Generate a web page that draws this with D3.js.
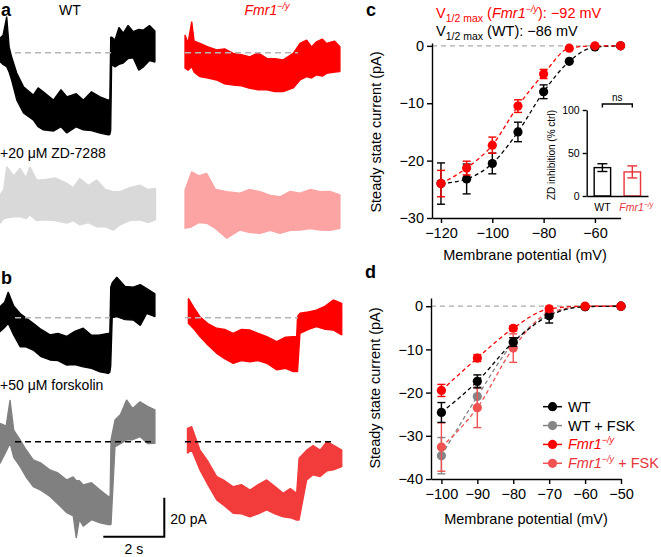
<!DOCTYPE html>
<html><head><meta charset="utf-8">
<script src="https://cdn.jsdelivr.net/npm/d3@7"></script>
<style>body{margin:0;background:#fff}svg{display:block}text{font-family:'Liberation Sans',Arial,Helvetica,sans-serif}</style>
</head><body><svg id="fig" width="661" height="557"></svg>
<script>
// ---------- DATA ----------
// Panel c : steady-state current vs membrane potential
const voltC = [-120,-110,-100,-90,-80,-70,-60,-50];
const wtC = [-24.0,-23.2,-20.5,-15.0,-8.0,-2.7,-0.2,0];
const wtCErr = [3.6,2.6,1.8,1.7,1.2,0.4,0.2,0.1];
const koC = [-24.0,-21.3,-17.3,-10.5,-4.9,-0.4,0,0];
const koCErr = [2.3,1.2,1.4,1.1,0.8,0.3,0.2,0.1];
const tickXC = [-120,-100,-80,-60];
const tickYC = [-30,-20,-10,0];
// inset : ZD inhibition
const insetCats = ["WT","Fmr1"];
const insetVals = [33,28];
const insetErr = [4.5,7];
const insetTicks = [0,50,100];
// Panel d
const voltD = [-100,-90,-80,-70,-60,-50];
const wtD = [-24.6,-17.4,-8.3,-2.2,-0.1,0];
const wtDErr = [2.3,1.5,1.0,1.7,0.2,0];
const wtFskD = [-34.6,-20.9,-8.5,-2.0,-0.1,0];
const wtFskDErr = [4.2,2.2,1.2,0.8,0.2,0];
const koD = [-19.5,-12.0,-5.1,-0.6,0,0];
const koDErr = [1.4,0.8,0.6,0.3,0.2,0];
const koFskD = [-32.6,-23.5,-9.7,-1.5,-0.1,0];
const koFskDErr = [5.6,4.6,3.3,1.0,0.2,0];
const tickXD = [-100,-90,-80,-70,-60,-50];
const tickYD = [-40,-30,-20,-10,0];
// Current traces: [time (s), upper envelope (pA), lower envelope (pA)]
const traceA_WT = [[0,7.4,-4.6],[0.1,9,-6],[0.22,18.5,-7.2],[0.3,3,-10],[0.38,-2.1,-14.0],[0.55,-10.4,-24.3],[0.77,-17.4,-30.9],[1.09,-21.7,-34.5],[1.25,-18,-38],[1.42,-20.0,-39.6],[1.75,-24.3,-40.2],[2.0,-19,-38],[2.19,-22.6,-41.2],[2.5,-21,-38],[2.73,-24.3,-39.6],[3.0,-20,-40],[3.28,-22.6,-41.2],[3.55,-24.3,-42.2],[3.6,-24,-42],[3.63,8,-40],[3.66,8,-6],[3.77,6.5,-7.3],[3.9,13,-6],[4.04,10.1,-5.3],[4.2,14,-3],[4.37,10.8,-2.7],[4.55,12,-9],[4.70,11.6,-7.3],[4.9,14,-4],[5.08,11.1,-4.8]];
const traceA_KO = [[0,9.1,-8.0],[0.1,5,-9],[0.22,15.9,-7.2],[0.3,6,-10],[0.49,4.8,-12.3],[0.75,3,-13],[1.04,1.4,-14.0],[1.3,2,-16],[1.58,-0.3,-16.6],[1.85,-1,-17],[2.13,-2.1,-18.3],[2.4,0,-19],[2.68,-2.9,-19.1],[2.95,-3,-20],[3.22,-3.7,-20.0],[3.55,-0.3,-18.1],[3.77,4.8,-14.0],[3.99,6.5,-12.3],[4.15,3,-13],[4.31,5.6,-11.4],[4.5,7,-12],[4.64,4.8,-10.6],[4.9,6,-10],[5.08,3.1,-9.7]];
const traceZD_WT = [[0,7.2,-7.3],[0.12,10,-5],[0.22,21.7,-4.6],[0.45,17,-4],[0.66,20.9,-3.9],[0.85,16,-5],[0.98,21.7,-3.1],[1.2,15,-6],[1.42,14.9,-5.6],[1.8,16,-6],[2.19,13.2,-7.3],[2.4,11,-6],[2.62,15.7,-8.2],[2.9,12,-7],[3.17,14.9,-9.1],[3.45,10,-9],[3.72,8.9,-10.8],[3.93,8.9,-8.2],[4.25,11,-6],[4.59,12.3,-5.6],[4.85,10,-7],[5.10,10.6,-5.6]];
const traceZD_KO = [[0,9.7,-9.9],[0.22,19.1,-9.1],[0.45,17,-7],[0.71,18.3,-7.3],[1.0,10,-10],[1.37,8.9,-15.0],[1.80,8.1,-10.8],[2.1,10,-12],[2.46,8.9,-12.5],[2.8,7,-11],[3.11,6.3,-12.5],[3.45,9,-11],[3.77,8.1,-10.8],[4.1,10,-10],[4.43,8.9,-10.8],[4.75,9,-11],[5.08,7.2,-9.9]];
const traceB_WT = [[0,5.6,-7.2],[0.15,8,-5],[0.27,13.2,-2.9],[0.45,6,-9],[0.66,2.2,-14.9],[0.85,0,-15],[1.09,-2.9,-16.6],[1.35,-6,-20],[1.64,-8.8,-21.7],[1.9,-8,-22],[2.19,-9.6,-24.3],[2.45,-7,-24],[2.73,-5.4,-25.2],[3.0,-9,-26],[3.28,-8.8,-27.8],[3.55,-8.0,-28.6],[3.6,-8,-28],[3.63,15.7,-25],[3.68,18,0],[3.83,20.8,0.5],[4.1,16,-1],[4.37,15.7,-1.2],[4.6,17,-4],[4.81,15.0,2.2],[5.08,12.3,0.5]];
const traceB_KO = [[0.11,9.9,-2.9],[0.3,5,-6],[0.49,0.5,-9.7],[0.75,-3,-14],[1.04,-5.4,-18.3],[1.3,-6,-21],[1.58,-8.0,-23.4],[1.85,-6,-22],[2.13,-6.3,-22.6],[2.4,-8,-22],[2.68,-9.7,-23.4],[3.01,-12.3,-26.8],[3.3,-10,-26],[3.55,-9.7,-27.7],[3.66,-9.7,-27.7],[3.69,0.5,-27.7],[3.77,2.3,-8.0],[4.05,3,-6],[4.31,3.9,-4.6],[4.6,6,-6],[4.86,9.1,-6.3],[5.14,7.4,-8.9]];
const traceF_WT = [[0,9.4,-11.1],[0.2,8,-5],[0.33,21.4,-0.8],[0.45,6,-8],[0.66,0.9,-12.8],[0.85,-4,-18],[1.09,-9.3,-23.0],[1.35,-11,-25],[1.64,-14.5,-28.1],[1.9,-16,-32],[2.19,-19.6,-36.4],[2.4,-18,-38],[2.50,-20,-49.4],[2.6,-20,-40],[2.73,-22.2,-43.3],[3.0,-21,-40],[3.28,-24.8,-41.6],[3.55,-28.1,-42.5],[3.61,-28,-42.5],[3.64,0.9,-42.5],[3.77,11.1,-2.6],[3.95,14,-1],[4.15,21.4,0.9],[4.35,17,1],[4.59,20.5,2.6],[4.85,18,-1],[5.08,16.3,-0.8]];
const traceF_KO = [[0.08,6.9,-5.9],[0.22,7.7,-4.3],[0.49,-4.3,-14.5],[0.75,-10,-22],[1.04,-17.9,-29.9],[1.3,-20,-33],[1.58,-23.1,-36.7],[1.85,-22,-37],[2.13,-24.8,-38.5],[2.4,-22,-37],[2.68,-19.6,-35.0],[2.95,-23,-37],[3.22,-26.5,-38.5],[3.45,-24,-39],[3.66,-26.5,-40.2],[3.74,-8.5,-40.2],[3.99,-4.3,-19.6],[4.2,-2,-17],[4.43,-4.3,-17.9],[4.65,0,-15],[4.86,-1.7,-14.5],[5.14,-4.3,-12.8]];
const scaleBarT = 2;   // s
const scaleBarI = 20;  // pA

// ---------- DRAWING ----------
const svg = d3.select('#fig');
const minus = d => d < 0 ? '\u2212' + Math.abs(d) : String(d);

function rich(sel, parts){
  let cur = 0;
  parts.forEach(p => {
    const sh = p.sup ? -p.sup : (p.sub ? p.sub : 0);
    const t = sel.append('tspan').text(p.t).attr('dy', sh - cur);
    cur = sh;
    if (p.it) t.attr('font-style','italic');
    if (p.fs) t.attr('font-size', p.fs);
    if (p.fill) t.attr('fill', p.fill);
  });
}
function label(x, y, txt){
  svg.append('text').attr('x',x).attr('y',y).attr('font-size',18).attr('font-weight','bold').text(txt);
}
label(1,16,'a'); label(1,284,'b'); label(366,16,'c'); label(365,278,'d');

// --- traces ---
const pxPerS = 30.5, pxPerPA = 1.95;
function drawTrace(data, x0, base, color){
  const x = d3.scaleLinear().domain([0,1]).range([x0, x0+pxPerS]);
  const y = d3.scaleLinear().domain([0,1]).range([base, base-pxPerPA]);
  const area = d3.area().x(d=>x(d[0])).y0(d=>y(d[2])).y1(d=>y(d[1]));
  svg.append('path').datum(data).attr('d',area).attr('fill',color).attr('stroke',color).attr('stroke-width',1.3).attr('stroke-linejoin','bevel');
  return {x,y};
}
function baseline(x1,x2,y,color){
  svg.append('line').attr('x1',x1).attr('x2',x2).attr('y1',y).attr('y2',y).attr('stroke',color).attr('stroke-width',1.6).attr('stroke-dasharray','6,4');
}
const baseA = 52.7, baseZD = 209, baseB = 317.7, baseF = 441.7;
drawTrace(traceA_WT, 0, baseA, '#000');
drawTrace(traceA_KO, 185, baseA, '#ff0000');
baseline(15,112,baseA,'#b5b5b5'); baseline(185,298,baseA,'#b5b5b5');
drawTrace(traceZD_WT, 0, baseZD, '#d9d9d9');
drawTrace(traceZD_KO, 185, baseZD, '#fca3a3');
drawTrace(traceB_WT, 0, baseB, '#000');
drawTrace(traceB_KO, 185, baseB, '#ff0000');
baseline(15,110,baseB,'#b5b5b5'); baseline(185,298,baseB,'#b5b5b5');
drawTrace(traceF_WT, 0, baseF, '#808080');
drawTrace(traceF_KO, 185, baseF, '#f23b3b');
baseline(15,153,baseF,'#000'); baseline(185,335,baseF,'#000');

// column headers & condition labels
svg.append('text').attr('x',70).attr('y',15).attr('text-anchor','middle').attr('font-size',14).text('WT');
const h2 = svg.append('text').attr('x',267).attr('y',15).attr('text-anchor','middle').attr('font-size',14).attr('fill','#ff0000');
rich(h2,[{t:'Fmr1',it:true},{t:'\u2212/y',sup:6,fs:9,it:true}]);
svg.append('text').attr('x',0).attr('y',158).attr('font-size',14).text('+20 \u03bcM ZD-7288');
svg.append('text').attr('x',0).attr('y',390).attr('font-size',14).text('+50 \u03bcM forskolin');

// scale bar
const sbX = d3.scaleLinear().domain([0,scaleBarT]).range([103.3, 103.3 + scaleBarT*pxPerS]);
const sbY = d3.scaleLinear().domain([0,scaleBarI]).range([536.7, 536.7 - scaleBarI*pxPerPA]);
svg.append('path').attr('d',`M${sbX(0)},${sbY(0)}H${sbX(scaleBarT)}V${sbY(scaleBarI)}`).attr('fill','none').attr('stroke','#000').attr('stroke-width',2);
svg.append('text').attr('x',sbX(scaleBarT)+6).attr('y',524).attr('font-size',14).text(scaleBarI+' pA');
svg.append('text').attr('x',(sbX(0)+sbX(scaleBarT))/2).attr('y',554).attr('text-anchor','middle').attr('font-size',14).text(scaleBarT+' s');

// --- common axis styling ---
function styleAxis(g, fs){
  g.selectAll('path,line').attr('stroke','#000').attr('stroke-width',1.4);
  g.selectAll('text').attr('font-size',fs).attr('fill','#000').attr('font-family',"'Liberation Sans',Arial,sans-serif");
}
function drawSeries(xs, ys, volts, means, errs, color){
  const pts = means.map((m,i)=>({v:volts[i], m, e:errs[i]}));
  const line = d3.line().x(d=>xs(d.v)).y(d=>ys(d.m)).curve(d3.curveMonotoneX);
  svg.append('path').datum(pts).attr('d',line).attr('fill','none').attr('stroke',color).attr('stroke-width',1.3).attr('stroke-dasharray','4,3');
  const g = svg.append('g');
  const eb = g.selectAll('g.eb').data(pts.filter(d=>d.e>0.5)).join('g').attr('stroke',color).attr('stroke-width',1.4);
  eb.append('line').attr('x1',d=>xs(d.v)).attr('x2',d=>xs(d.v)).attr('y1',d=>ys(d.m+d.e)).attr('y2',d=>ys(d.m-d.e));
  eb.append('line').attr('x1',d=>xs(d.v)-4).attr('x2',d=>xs(d.v)+4).attr('y1',d=>ys(d.m+d.e)).attr('y2',d=>ys(d.m+d.e));
  eb.append('line').attr('x1',d=>xs(d.v)-4).attr('x2',d=>xs(d.v)+4).attr('y1',d=>ys(d.m-d.e)).attr('y2',d=>ys(d.m-d.e));
  g.selectAll('circle').data(pts).join('circle').attr('cx',d=>xs(d.v)).attr('cy',d=>ys(d.m)).attr('r',4.6).attr('fill',color);
}

// --- panel c ---
const xC = d3.scaleLinear().domain([-123.5,-50]).range([432,620.6]);
const yC = d3.scaleLinear().domain([-30,0.5]).range([218,43]);
svg.append('line').attr('x1',xC.range()[0]).attr('x2',xC.range()[1]).attr('y1',yC(0)).attr('y2',yC(0)).attr('stroke','#aaa').attr('stroke-width',1.3).attr('stroke-dasharray','5,4');
const gyC = svg.append('g').attr('transform','translate(432,0)').call(d3.axisLeft(yC).tickValues(tickYC).tickSize(5).tickSizeOuter(0).tickPadding(3).tickFormat(minus));
styleAxis(gyC,14.5);
const gxC = svg.append('g').attr('transform','translate(0,218)').call(d3.axisBottom(xC).tickValues(tickXC).tickSize(5).tickSizeOuter(0).tickPadding(5).tickFormat(minus));
styleAxis(gxC,14.5);
svg.append('text').attr('transform','translate(381,132) rotate(-90)').attr('text-anchor','middle').attr('font-size',14.5).text('Steady state current (pA)');
svg.append('text').attr('x',525).attr('y',260).attr('text-anchor','middle').attr('font-size',14.5).text('Membrane potential (mV)');
drawSeries(xC,yC,voltC,wtC,wtCErr,'#000');
drawSeries(xC,yC,voltC,koC,koCErr,'#ff0000');
const t1 = svg.append('text').attr('x',436).attr('y',18).attr('font-size',14.5).attr('fill','#ff0000');
rich(t1,[{t:'V'},{t:'1/2 max',sub:4,fs:10.5},{t:' ('},{t:'Fmr1',it:true},{t:'\u2212/y',sup:6,fs:9,it:true},{t:'): \u221292 mV'}]);
const t2 = svg.append('text').attr('x',436).attr('y',36).attr('font-size',14.5).attr('fill','#000');
rich(t2,[{t:'V'},{t:'1/2 max',sub:4,fs:10.5},{t:' (WT): \u221286 mV'}]);

// inset
const xIn = d3.scaleBand().domain(insetCats).range([586.7,648]).paddingInner(0.45).paddingOuter(0.25);
const yIn = d3.scaleLinear().domain([0,100]).range([196,110]);
const insetColors = ['#000','#e8343a'];
const gbar = svg.append('g');
insetCats.forEach((c,i)=>{
  const bx = xIn(c), bw = xIn.bandwidth(), cx = bx+bw/2;
  gbar.append('rect').attr('x',bx).attr('y',yIn(insetVals[i])).attr('width',bw).attr('height',yIn(0)-yIn(insetVals[i])).attr('fill','#fff').attr('stroke',insetColors[i]).attr('stroke-width',1.4);
  const g = gbar.append('g').attr('stroke',insetColors[i]).attr('stroke-width',1.4);
  g.append('line').attr('x1',cx).attr('x2',cx).attr('y1',yIn(insetVals[i]+insetErr[i])).attr('y2',yIn(insetVals[i]-insetErr[i]));
  [1,-1].forEach(s=>g.append('line').attr('x1',cx-5).attr('x2',cx+5).attr('y1',yIn(insetVals[i]+s*insetErr[i])).attr('y2',yIn(insetVals[i]+s*insetErr[i])));
});
const gyIn = svg.append('g').attr('transform','translate(586.7,0)').call(d3.axisLeft(yIn).tickValues(insetTicks).tickSize(4).tickSizeOuter(0).tickPadding(3));
styleAxis(gyIn,10.5);
const gxIn = svg.append('g').attr('transform','translate(0,196)').call(d3.axisBottom(xIn).tickSize(0).tickSizeOuter(0).tickFormat(''));
styleAxis(gxIn,10);
svg.append('text').attr('x',xIn('WT')+xIn.bandwidth()/2).attr('y',211).attr('text-anchor','middle').attr('font-size',10.5).text('WT');
const fl = svg.append('text').attr('x',xIn('Fmr1')+xIn.bandwidth()/2+4).attr('y',211).attr('text-anchor','middle').attr('font-size',10.5).attr('fill','#e8343a');
rich(fl,[{t:'Fmr1',it:true},{t:'\u2212/y',sup:4,fs:7,it:true}]);
svg.append('text').attr('transform','translate(555,155) rotate(-90)').attr('text-anchor','middle').attr('font-size',10).text('ZD inhibition (% ctrl)');
const c1 = xIn('WT')+xIn.bandwidth()/2, c2 = xIn('Fmr1')+xIn.bandwidth()/2;
svg.append('path').attr('d',`M${c1},${yIn(103)}V${yIn(107)}H${c2}V${yIn(103)}`).attr('fill','none').attr('stroke','#000').attr('stroke-width',1.4);
svg.append('text').attr('x',(c1+c2)/2).attr('y',yIn(110)).attr('text-anchor','middle').attr('font-size',10).text('ns');

// --- panel d ---
const xD = d3.scaleLinear().domain([-102.9,-50]).range([431,621]);
const yD = d3.scaleLinear().domain([-40,1.9]).range([479,298]);
svg.append('line').attr('x1',xD.range()[0]).attr('x2',xD.range()[1]).attr('y1',yD(0)).attr('y2',yD(0)).attr('stroke','#aaa').attr('stroke-width',1.3).attr('stroke-dasharray','5,4');
const gyD = svg.append('g').attr('transform','translate(431,0)').call(d3.axisLeft(yD).tickValues(tickYD).tickSize(5).tickSizeOuter(0).tickPadding(3).tickFormat(minus));
styleAxis(gyD,14.5);
const gxD = svg.append('g').attr('transform','translate(0,479)').call(d3.axisBottom(xD).tickValues(tickXD).tickSize(5).tickSizeOuter(0).tickPadding(5).tickFormat(minus));
styleAxis(gxD,14.5);
svg.append('text').attr('transform','translate(380,388) rotate(-90)').attr('text-anchor','middle').attr('font-size',14.5).text('Steady state current (pA)');
svg.append('text').attr('x',526).attr('y',524).attr('text-anchor','middle').attr('font-size',14.5).text('Membrane potential (mV)');
const colGray = '#858585', colLR = '#f05252';
drawSeries(xD,yD,voltD,wtFskD,wtFskDErr,colGray);
drawSeries(xD,yD,voltD,koFskD,koFskDErr,colLR);
drawSeries(xD,yD,voltD,wtD,wtDErr,'#000');
drawSeries(xD,yD,voltD,koD,koDErr,'#ff0000');

// legend
const legend = [
  {c:'#000', tc:'#000', parts:[{t:'WT'}]},
  {c:colGray, tc:'#000', parts:[{t:'WT + FSK'}]},
  {c:'#ff0000', tc:'#ff0000', parts:[{t:'Fmr1',it:true},{t:'\u2212/y',sup:6,fs:9,it:true}]},
  {c:colLR, tc:'#e8343a', parts:[{t:'Fmr1',it:true},{t:'\u2212/y',sup:6,fs:9,it:true},{t:' + FSK'}]}
];
const ly = d3.scalePoint().domain(d3.range(legend.length)).range([406.7,463.3]);
legend.forEach((L,i)=>{
  const y = ly(i);
  svg.append('line').attr('x1',543).attr('x2',562).attr('y1',y).attr('y2',y).attr('stroke',L.c).attr('stroke-width',1.5);
  svg.append('circle').attr('cx',552.5).attr('cy',y).attr('r',4.6).attr('fill',L.c);
  const t = svg.append('text').attr('x',568).attr('y',y+5).attr('font-size',14.5).attr('fill',L.tc);
  rich(t,L.parts);
});
</script></body></html>
